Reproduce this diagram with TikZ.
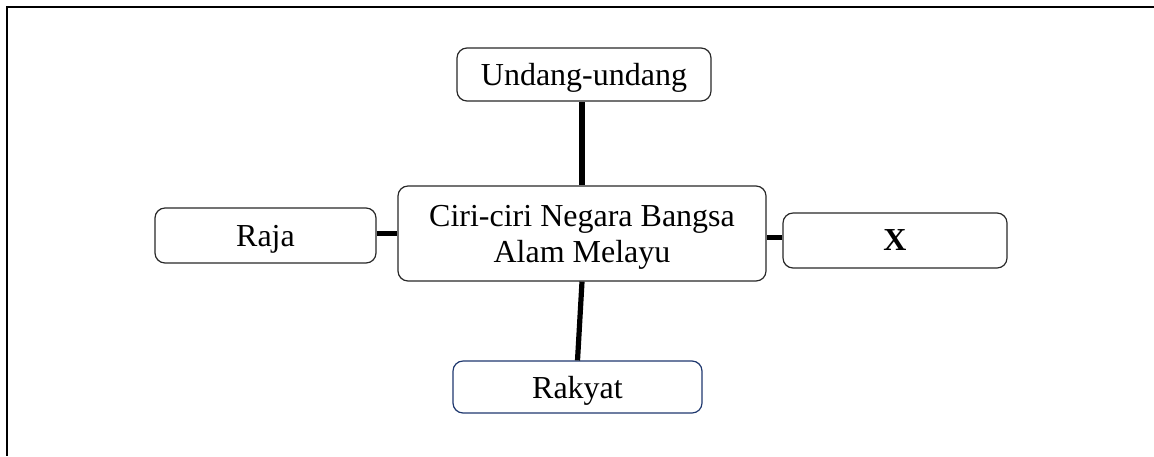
\documentclass[tikz,border=0pt]{standalone}
\usepackage{fontspec}
\setmainfont{Liberation Serif}
\definecolor{boxline}{RGB}{40,40,40}
\definecolor{blueline}{RGB}{31,56,110}
\begin{document}
\begin{tikzpicture}[x=0.5pt,y=-0.5pt,
  box/.style={draw=boxline,line width=0.6pt,rounded corners=5pt,font=\fontsize{16}{18}\selectfont,align=center,inner sep=0pt,text depth=0pt},
  conn/.style={line width=2.6pt},
  frame/.style={line width=1.1pt}]
\useasboundingbox (0,0) rectangle (1154,456);
\coordinate (ftop) at (1154,7);
\coordinate (fcorner) at (7,7);
\coordinate (fbot) at (7,456);
\draw[frame] (ftop) -- (fcorner) -- (fbot);
\node[box,minimum width=127pt,minimum height=26.5pt] (u) at (584,74.5) {Undang-undang};
\node[box,minimum width=184pt,minimum height=47.5pt] (c) at (582,233.5) {Ciri-ciri Negara Bangsa\\Alam Melayu};
\node[box,minimum width=110.5pt,minimum height=27.5pt] (raja) at (265.5,235.5) {Raja};
\node[box,minimum width=112pt,minimum height=27.5pt] (x) at (895,240.5) {\textbf{X}};
\node[box,draw=blueline,minimum width=124.5pt,minimum height=26pt] (r) at (577.5,387) {Rakyat};
\draw[conn] (c.north) -- (c.north |- u.south);
\draw[conn] (c.south) -- (r.north);
\draw[conn] ([yshift=1pt]raja.east) -- ([yshift=1pt]raja.east -| c.west);
\draw[conn] ([yshift=1.5pt]x.west) -- ([yshift=1.5pt]x.west -| c.east);
\end{tikzpicture}
\end{document}
